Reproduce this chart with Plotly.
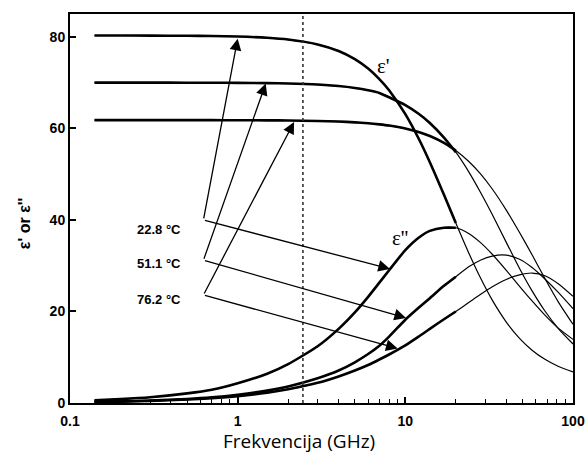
import math
import plotly.graph_objects as go

# ---------------- data ----------------
FREQ = [0.14, 0.2, 0.3, 0.5, 0.7, 1, 1.5, 2, 3, 4, 5, 6, 7, 8, 10, 12, 14, 17, 20,
        24, 28, 33, 40, 48, 57, 68, 82, 100]

EPS1_228 = [80.3, 80.3, 80.28, 80.24, 80.19, 80.08, 79.8, 79.42, 78.35, 76.91, 75.13, 73.07,
            70.78, 68.33, 63.11, 57.79, 52.62, 45.5, 39.34, 32.63, 27.4, 22.47, 17.69, 14.13,
            11.54, 9.54, 7.98, 6.81]
EPS2_228 = [0.6, 0.85, 1.25, 2.1, 2.9, 4.3, 6.4, 8.5, 12.4, 16.2, 19.8, 23.2, 26.3, 29.0,
            33.4, 36.1, 37.6, 38.3, 38.3, 37.0, 35.1, 32.5, 29.0, 25.5, 22.3, 19.2, 16.3, 13.9]

EPS1_511 = [70.0, 70.0, 70.0, 69.99, 69.98, 69.95, 69.89, 69.81, 69.58, 69.25, 68.84, 68.34,
            67.76, 66.8, 65.1, 63.2, 61.2, 58.0, 54.8, 50.4, 46.1, 41.2, 35.1, 29.4, 24.5,
            20.1, 16.2, 12.9]
EPS2_511 = [0.25, 0.35, 0.53, 0.88, 1.23, 1.8, 2.7, 3.6, 5.4, 7.1, 8.9, 10.7, 12.5, 14.5,
            18.2, 20.8, 22.9, 25.6, 27.6, 29.8, 31.2, 32.1, 32.3, 31.4, 29.6, 27.1, 24.1, 20.6]

EPS1_762 = [61.8, 61.8, 61.8, 61.8, 61.8, 61.78, 61.76, 61.73, 61.63, 61.5, 61.33, 61.13,
            60.89, 60.62, 59.98, 59.22, 58.34, 56.85, 55.17, 52.72, 50.11, 46.76, 42.15, 37.24,
            32.39, 27.2, 22.0, 17.2]
EPS2_762 = [0.2, 0.3, 0.45, 0.75, 1.05, 1.5, 2.25, 3.0, 4.4, 5.8, 7.1, 8.3, 9.5, 10.6, 12.6,
            14.5, 16.2, 18.3, 20.0, 22.0, 23.7, 25.4, 27.0, 28.0, 28.4, 27.8, 26.0, 23.3]

MEASURED_MAX_F = 20          # thick (measured) curves end here
MARKER_F = 2.45              # dotted line (GHz)

TEMP_LABELS = ["22.8 \u00b0C", "51.1 \u00b0C", "76.2 \u00b0C"]
LABEL_POS = [(0.47, 38.0), (0.47, 30.4), (0.47, 22.7)]          # right edge of labels
ARROW_BASE = [(0.625, 40.0), (0.625, 31.2), (0.625, 23.6)]
ARROW_TIP_EPS1 = [(1.0, 79.6), (1.47, 69.8), (2.17, 61.4)]
ARROW_TIP_EPS2 = [(8.1, 29.3), (10.1, 18.6), (9.0, 11.9)]

X_TICKS = [0.1, 1, 10, 100]
X_TICKTEXT = ["0.1", "1", "10", "100"]
Y_TICKS = [0, 20, 40, 60, 80]

X_TITLE = "Frekvencija (GHz)"
Y_TITLE = "\u03b5' or \u03b5''"

# ---------------- figure ----------------
fig = go.Figure()

series = [EPS1_228, EPS2_228, EPS1_511, EPS2_511, EPS1_762, EPS2_762]
n_meas = sum(1 for f in FREQ if f <= MEASURED_MAX_F)

for s in series:
    # thin fitted curve over full range
    fig.add_trace(go.Scatter(x=FREQ, y=s, mode="lines",
                             line=dict(color="black", width=1.2, shape="spline", smoothing=0.6),
                             hoverinfo="skip", showlegend=False))
for s in series:
    # thick measured curve
    fig.add_trace(go.Scatter(x=FREQ[:n_meas], y=s[:n_meas], mode="lines",
                             line=dict(color="black", width=2.6, shape="spline", smoothing=0.6),
                             hoverinfo="skip", showlegend=False))

# dotted marker line
fig.add_trace(go.Scatter(x=[MARKER_F, MARKER_F], y=[0, 85], mode="lines",
                         line=dict(color="#333", width=1.6, dash="dot"),
                         hoverinfo="skip", showlegend=False))

ann = []
for lab, (lx, ly) in zip(TEMP_LABELS, LABEL_POS):
    ann.append(dict(x=math.log10(lx), y=ly, xref="x", yref="y", text=lab, showarrow=False,
                    xanchor="right", yanchor="middle",
                    font=dict(family="Liberation Sans", size=13, color="black", weight="bold")))
for (bx, by), t1, t2 in zip(ARROW_BASE, ARROW_TIP_EPS1, ARROW_TIP_EPS2):
    for (tx, ty) in (t1, t2):
        ann.append(dict(x=math.log10(tx), y=ty, xref="x", yref="y",
                        ax=math.log10(bx), ay=by, axref="x", ayref="y",
                        text="", showarrow=True, arrowhead=2, arrowsize=1.8,
                        arrowwidth=1.3, arrowcolor="black", standoff=0))

ann.append(dict(x=math.log10(7.44), y=73.6, xref="x", yref="y", text="\u03b5'",
                showarrow=False, font=dict(family="Liberation Serif", size=21, color="black")))
ann.append(dict(x=math.log10(9.27), y=36.0, xref="x", yref="y", text="\u03b5''",
                showarrow=False, font=dict(family="Liberation Serif", size=21, color="black")))

ann.append(dict(x=0.455, y=-0.097, xref="paper", yref="paper", text=X_TITLE, showarrow=False,
                xanchor="center", yanchor="middle",
                font=dict(family="Open Sans", size=19, color="black")))
ann.append(dict(x=-0.089, y=0.463, xref="paper", yref="paper", text=Y_TITLE, showarrow=False,
                textangle=-90, xanchor="center", yanchor="middle",
                font=dict(family="Liberation Sans", size=16, color="black", weight="bold")))

tickfont = dict(family="Liberation Sans", size=14, color="black", weight="bold")

fig.update_layout(
    width=585, height=455,
    margin=dict(l=70, r=12, t=14, b=52, autoexpand=False),
    paper_bgcolor="white", plot_bgcolor="white",
    annotations=ann,
    xaxis=dict(type="log", range=[-1, 2], showline=True, linewidth=2, linecolor="black",
               mirror=True, ticks="inside", ticklen=6, tickwidth=1.5, tickcolor="black",
               tickvals=X_TICKS, ticktext=X_TICKTEXT, tickfont=tickfont, automargin=False,
               ticklabeloverflow="allow", ticklabelstandoff=4,
               showgrid=False, zeroline=False,
               minor=dict(ticks="inside", ticklen=4, tickwidth=1.2, tickcolor="black",
                          dtick="D1", showgrid=False)),
    yaxis=dict(range=[0, 85], showline=True, linewidth=2, linecolor="black", mirror=True,
               ticks="inside", ticklen=6, tickwidth=1.5, tickcolor="black", automargin=False,
               tickvals=Y_TICKS, tickfont=tickfont, showgrid=False, zeroline=False),
)

fig.write_html("out.html")
